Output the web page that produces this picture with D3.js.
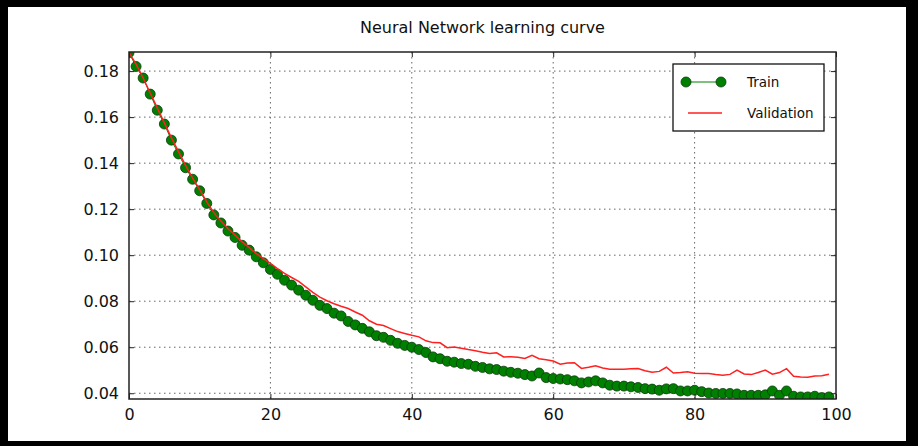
<!DOCTYPE html>
<html>
<head>
<meta charset="utf-8">
<script src="https://cdn.jsdelivr.net/npm/d3@7"></script>
<style>
  body { margin: 0; background: #000; }
  svg text { font-family: "DejaVu Sans", sans-serif; fill: #111; }
</style>
</head>
<body>
<div id="chart-container"></div>
<script>
// Epoch numbers on the x axis
var epochs = d3.range(0, 100);

// Training error per epoch
var trainError = [
    0.1880, 0.1820, 0.1770, 0.1700, 0.1630, 0.1570, 0.1500, 0.1440, 0.1380, 0.1330,
    0.1280, 0.1225, 0.1175, 0.1140, 0.1105, 0.1077, 0.1043, 0.1022, 0.0993, 0.0967,
    0.0938, 0.0917, 0.0891, 0.0870, 0.0848, 0.0826, 0.0804, 0.0782, 0.0768, 0.0748,
    0.0736, 0.0712, 0.0697, 0.0682, 0.0667, 0.0650, 0.0643, 0.0630, 0.0617, 0.0608,
    0.0600, 0.0590, 0.0577, 0.0558, 0.0550, 0.0539, 0.0535, 0.0529, 0.0526, 0.0517,
    0.0512, 0.0506, 0.0503, 0.0496, 0.0491, 0.0487, 0.0481, 0.0475, 0.0488, 0.0468,
    0.0464, 0.0462, 0.0459, 0.0454, 0.0445, 0.0449, 0.0454, 0.0445, 0.0435, 0.0431,
    0.0431, 0.0428, 0.0425, 0.0420, 0.0418, 0.0413, 0.0419, 0.0420, 0.0410, 0.0410,
    0.0413, 0.0407, 0.0401, 0.0399, 0.0399, 0.0399, 0.0397, 0.0391, 0.0391, 0.0391,
    0.0393, 0.0410, 0.0391, 0.0410, 0.0387, 0.0384, 0.0384, 0.0387, 0.0381, 0.0384
];

// Validation error per epoch
var validationError = [
    0.1880, 0.1830, 0.1770, 0.1705, 0.1640, 0.1575, 0.1510, 0.1450, 0.1390, 0.1335,
    0.1285, 0.1232, 0.1185, 0.1148, 0.1115, 0.1087, 0.1058, 0.1033, 0.1007, 0.0985,
    0.0964, 0.0942, 0.0921, 0.0903, 0.0886, 0.0862, 0.0838, 0.0818, 0.0802, 0.0789,
    0.0778, 0.0768, 0.0753, 0.0739, 0.0715, 0.0700, 0.0694, 0.0681, 0.0668, 0.0660,
    0.0652, 0.0645, 0.0628, 0.0620, 0.0619, 0.0598, 0.0601, 0.0596, 0.0590, 0.0585,
    0.0578, 0.0573, 0.0576, 0.0558, 0.0559, 0.0556, 0.0551, 0.0565, 0.0550, 0.0546,
    0.0540, 0.0526, 0.0531, 0.0533, 0.0508, 0.0513, 0.0519, 0.0510, 0.0504, 0.0504,
    0.0504, 0.0506, 0.0507, 0.0498, 0.0491, 0.0495, 0.0513, 0.0488, 0.0490, 0.0493,
    0.0487, 0.0486, 0.0486, 0.0481, 0.0478, 0.0482, 0.0501, 0.0484, 0.0481, 0.0490,
    0.0501, 0.0483, 0.0490, 0.0507, 0.0474, 0.0471, 0.0470, 0.0475, 0.0476, 0.0483
];

var xTicks = [0, 20, 40, 60, 80, 100];
var yTicks = [0.04, 0.06, 0.08, 0.10, 0.12, 0.14, 0.16, 0.18];
var seriesNames = ["Train", "Validation"];

var width = 918;
var height = 446;
var margin = { top: 52, right: 82, bottom: 47, left: 129 };
var plotW = width - margin.left - margin.right;
var plotH = height - margin.top - margin.bottom;

var svg = d3.select("#chart-container")
    .append("svg")
    .attr("width", width)
    .attr("height", height);

// black picture frame around a white page
svg.append("rect").attr("width", width).attr("height", height).attr("fill", "#000");
svg.append("rect")
    .attr("x", 8).attr("y", 7)
    .attr("width", 898).attr("height", 434)
    .attr("fill", "#fff");

// Title
svg.append("text")
    .attr("x", margin.left + plotW / 2)
    .attr("y", 33)
    .style("text-anchor", "middle")
    .style("font-size", "16px")
    .text("Neural Network learning curve");

var g = svg.append("g")
    .attr("transform", "translate(" + margin.left + "," + margin.top + ")");

var xScale = d3.scaleLinear().domain([0, 100]).range([0, plotW]);
var yScale = d3.scaleLinear().domain([0.0375, 0.1883]).range([plotH, 0]);

// dotted grid
g.append("g")
    .selectAll("line")
    .data(xTicks.slice(1, -1))
    .enter()
    .append("line")
    .attr("x1", function (d) { return xScale(d); })
    .attr("x2", function (d) { return xScale(d); })
    .attr("y1", 0)
    .attr("y2", plotH)
    .attr("stroke", "#666")
    .attr("stroke-dasharray", "1.5,3.5");

g.append("g")
    .selectAll("line")
    .data(yTicks)
    .enter()
    .append("line")
    .attr("x1", 0)
    .attr("x2", plotW)
    .attr("y1", function (d) { return yScale(d); })
    .attr("y2", function (d) { return yScale(d); })
    .attr("stroke", "#666")
    .attr("stroke-dasharray", "1.5,3.5");

// clip data to the axes box
svg.append("clipPath").attr("id", "plot-clip")
    .append("rect").attr("width", plotW).attr("height", plotH);

var dataLayer = g.append("g").attr("clip-path", "url(#plot-clip)");

var errLine = d3.line()
    .x(function (d, i) { return xScale(epochs[i]); })
    .y(function (d) { return yScale(d); });

dataLayer.append("path")
    .datum(trainError)
    .attr("d", errLine)
    .attr("fill", "none")
    .attr("stroke", "#008000")
    .attr("stroke-width", 1);

dataLayer.selectAll("circle")
    .data(trainError)
    .enter()
    .append("circle")
    .attr("cx", function (d, i) { return xScale(epochs[i]); })
    .attr("cy", function (d) { return yScale(d); })
    .attr("r", 5)
    .attr("fill", "#008000")
    .attr("stroke", "#0b3a0b")
    .attr("stroke-width", 0.8);

dataLayer.append("path")
    .datum(validationError)
    .attr("d", errLine)
    .attr("fill", "none")
    .attr("stroke", "#ff2020")
    .attr("stroke-width", 1.5);

// Axes: ticks inside, on all four sides (classic matplotlib look)
var tickLen = 5;
g.append("g")
    .attr("transform", "translate(0," + plotH + ")")
    .call(d3.axisBottom(xScale).tickValues(xTicks).tickSize(-tickLen).tickPadding(10).tickFormat(d3.format("d")))
    .call(function (a) { a.select(".domain").remove(); });
g.append("g")
    .call(d3.axisTop(xScale).tickValues(xTicks).tickSize(-tickLen).tickFormat(""))
    .call(function (a) { a.select(".domain").remove(); });
g.append("g")
    .call(d3.axisLeft(yScale).tickValues(yTicks).tickSize(-tickLen).tickPadding(10).tickFormat(d3.format(".2f")))
    .call(function (a) { a.select(".domain").remove(); });
g.append("g")
    .attr("transform", "translate(" + plotW + ",0)")
    .call(d3.axisRight(yScale).tickValues(yTicks).tickSize(-tickLen).tickFormat(""))
    .call(function (a) { a.select(".domain").remove(); });

g.selectAll(".tick line").attr("stroke", "#222").attr("stroke-width", 1);
g.selectAll(".tick text")
    .style("font-size", "16px")
    .style("font-family", "'DejaVu Sans', sans-serif")
    .attr("fill", "#111");

g.append("rect")
    .attr("width", plotW)
    .attr("height", plotH)
    .attr("fill", "none")
    .attr("stroke", "#222")
    .attr("stroke-width", 1.5);

// Legend
var legend = svg.append("g").attr("transform", "translate(673,64)");
legend.append("rect")
    .attr("width", 151)
    .attr("height", 67)
    .attr("fill", "#fff")
    .attr("stroke", "#111")
    .attr("stroke-width", 1.3);

legend.append("line")
    .attr("x1", 13).attr("x2", 48).attr("y1", 18).attr("y2", 18)
    .attr("stroke", "#008000");
legend.selectAll("circle")
    .data([13, 48])
    .enter()
    .append("circle")
    .attr("cx", function (d) { return d; })
    .attr("cy", 18)
    .attr("r", 5)
    .attr("fill", "#008000")
    .attr("stroke", "#0b3a0b")
    .attr("stroke-width", 0.8);
legend.append("line")
    .attr("x1", 15).attr("x2", 49).attr("y1", 49).attr("y2", 49)
    .attr("stroke", "#ff2020")
    .attr("stroke-width", 1.5);

legend.selectAll("text")
    .data(seriesNames)
    .enter()
    .append("text")
    .attr("x", 74)
    .attr("y", function (d, i) { return 23 + i * 31; })
    .style("font-size", "13.5px")
    .text(function (d) { return d; });
</script>
</body>
</html>
